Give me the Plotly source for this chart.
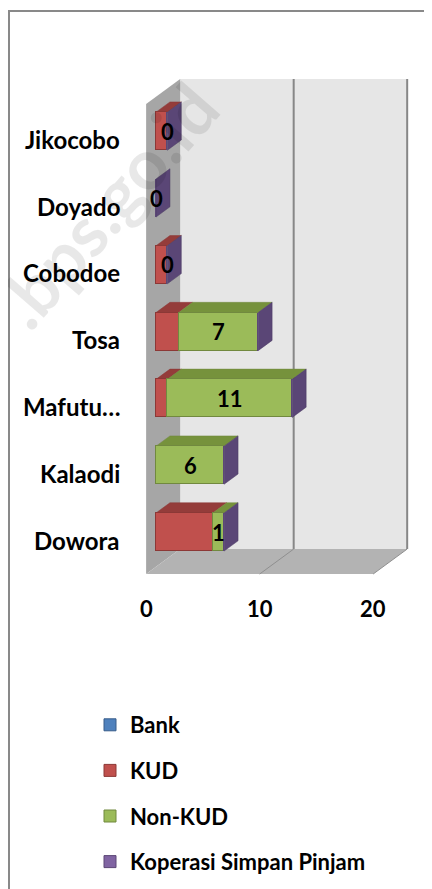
import plotly.graph_objects as go

# --- DATA ---
categories = ["Dowora", "Kalaodi", "Mafutu…", "Tosa", "Cobodoe", "Doyado", "Jikocobo"]
bank = [0, 0, 0, 0, 0, 0, 0]
kud = [5, 0, 1, 2, 1, 0, 1]
non_kud = [1, 6, 11, 7, 0, 0, 0]
ksp = [0, 0, 0, 0, 0, 0, 0]
x_ticks = [0, 10, 20]
x_tick_labels = ["0", "10", "20"]

# name, values, front colour, top colour, outline colour
series = [
    ("Bank", bank, "#4f81bd", "#3c6595", "#385d8a"),
    ("KUD", kud, "#c0504d", "#943c3a", "#8c3836"),
    ("Non-KUD", non_kud, "#9bbb59", "#76923c", "#71893f"),
    ("Koperasi Simpan Pinjam", ksp, "#8064a2", "#5a4676", "#5c4776"),
]

# page body has an 8px margin, so the figure is drawn 8px smaller and shifted
W, H = 424, 881
X0_PX, PX_PER_X = 148, 11.35   # pixel of value 0 on bar plane, px per unit
Y0_PX, PX_PER_Y = 524, 66.8    # pixel of first category centre, px per category

# --- 3D-ish geometry (in data units) ---
BAR_W = 0.57          # bar thickness on the category axis
DEPTH = (3.0, 0.374)  # floor depth vector, front edge -> back wall
T_BAR = 0.29          # depth of bar front faces
T_BAR_END = 0.70      # depth of bar back faces
FLOOR_H = -0.521
TOP_H = 6.515
X_MAX = 20
FONT = "Lato"


def proj(v, h, t):
    # point at value v, height h, depth t -> data coordinates of the bar plane
    return v + (t - T_BAR) * DEPTH[0], h + (t - T_BAR) * DEPTH[1]


def poly(points):
    return "M " + " L ".join(f"{x:.4f},{y:.4f}" for x, y in points) + " Z"


shapes = []
wall = dict(type="path", xref="x", yref="y", layer="below", line=dict(width=0))

# back wall
shapes.append(dict(wall, path=poly([proj(0, FLOOR_H, 1), proj(X_MAX, FLOOR_H, 1),
                                    proj(X_MAX, TOP_H, 1), proj(0, TOP_H, 1)]),
                   fillcolor="#e6e6e6"))
# left side wall
shapes.append(dict(wall, path=poly([proj(0, FLOOR_H, 0), proj(0, FLOOR_H, 1),
                                    proj(0, TOP_H, 1), proj(0, TOP_H, 0)]),
                   fillcolor="#a6a6a6"))
# floor
shapes.append(dict(wall, path=poly([proj(0, FLOOR_H, 0), proj(X_MAX, FLOOR_H, 0),
                                    proj(X_MAX, FLOOR_H, 1), proj(0, FLOOR_H, 1)]),
                   fillcolor="#b3b3b3"))
# gridlines on back wall and floor
for t in x_ticks[1:]:
    xb, yb = proj(t, FLOOR_H, 1)
    xt, yt = proj(t, TOP_H, 1)
    xf, yf = proj(t, FLOOR_H, 0)
    shapes.append(dict(type="line", xref="x", yref="y", layer="below",
                       x0=xb, y0=yb, x1=xt, y1=yt, line=dict(color="#878787", width=2)))
    shapes.append(dict(type="line", xref="x", yref="y", layer="below",
                       x0=xf, y0=yf, x1=xb, y1=yb, line=dict(color="#8f8f8f", width=1)))

# bar top faces and end faces
ddx = (T_BAR_END - T_BAR) * DEPTH[0]
ddy = (T_BAR_END - T_BAR) * DEPTH[1]
for i in range(len(categories)):
    yb, yt = i - BAR_W / 2, i + BAR_W / 2
    run = 0
    for name, vals, front, top, edge in series:
        v = vals[i]
        if v > 0:
            shapes.append(dict(type="path", xref="x", yref="y", layer="below",
                               path=poly([(run, yt), (run + v, yt),
                                          (run + v + ddx, yt + ddy), (run + ddx, yt + ddy)]),
                               fillcolor=top, line=dict(color=edge, width=0.5)))
        run += v
    shapes.append(dict(type="path", xref="x", yref="y", layer="below",
                       path=poly([(run, yb), (run, yt), (run + ddx, yt + ddy), (run + ddx, yb + ddy)]),
                       fillcolor=series[3][3], line=dict(color="#4b3b62", width=0.5)))

# outer chart frame
shapes.append(dict(type="rect", xref="paper", yref="paper", x0=1 / W, x1=1.05,
                   y0=-0.05, y1=1 - 3 / H, line=dict(color="#898989", width=2)))

fig = go.Figure()
ypos = list(range(len(categories)))
for name, vals, front, top, edge in series:
    fig.add_trace(go.Bar(
        y=ypos, x=vals, name=name, orientation="h", width=BAR_W,
        marker=dict(color=front, line=dict(color=edge, width=1)),
        legendgroup=name, hoverinfo="x+name",
    ))

bold = dict(family=FONT, color="black", weight="bold")
annotations = []
# data labels on Non-KUD
for i in range(len(categories)):
    start = bank[i] + kud[i]
    annotations.append(dict(x=start + non_kud[i] / 2, y=i, xref="x", yref="y",
                            text=str(non_kud[i]), showarrow=False, font=dict(bold, size=22)))
# category labels
for i, c in enumerate(categories):
    annotations.append(dict(x=-2.99, y=i - 0.12, xref="x", yref="y", text=c,
                            xanchor="right", showarrow=False, font=dict(bold, size=24)))
# value axis labels along the front edge of the floor
for t, lab in zip(x_ticks, x_tick_labels):
    fx, fy = proj(t, FLOOR_H, 0)
    annotations.append(dict(x=fx, y=-1.14, xref="x", yref="y", text=lab,
                            showarrow=False, font=dict(bold, size=22)))
# watermark
annotations.append(dict(x=-4.4, y=4.9, xref="x", yref="y", text=".bps.go.id",
                        textangle=-49, showarrow=False,
                        font=dict(family=FONT, size=70, color="rgba(0,0,0,0.09)", weight="bold")))

fig.update_layout(
    width=W, height=H,
    margin=dict(l=0, r=0, t=0, b=0, pad=0),
    paper_bgcolor="white", plot_bgcolor="rgba(0,0,0,0)",
    barmode="stack", bargap=0,
    showlegend=True,
    legend=dict(x=82 / W, y=1 - 696 / H, xanchor="left", yanchor="top", traceorder="grouped",
                tracegroupgap=14, bgcolor="rgba(0,0,0,0)",
                font=dict(bold, size=22)),
    xaxis=dict(range=[-X0_PX / PX_PER_X, (W - X0_PX) / PX_PER_X], visible=False, fixedrange=True),
    yaxis=dict(range=[-(H - Y0_PX) / PX_PER_Y, Y0_PX / PX_PER_Y], visible=False, fixedrange=True),
    shapes=shapes, annotations=annotations,
)

fig.write_html("out.html")
